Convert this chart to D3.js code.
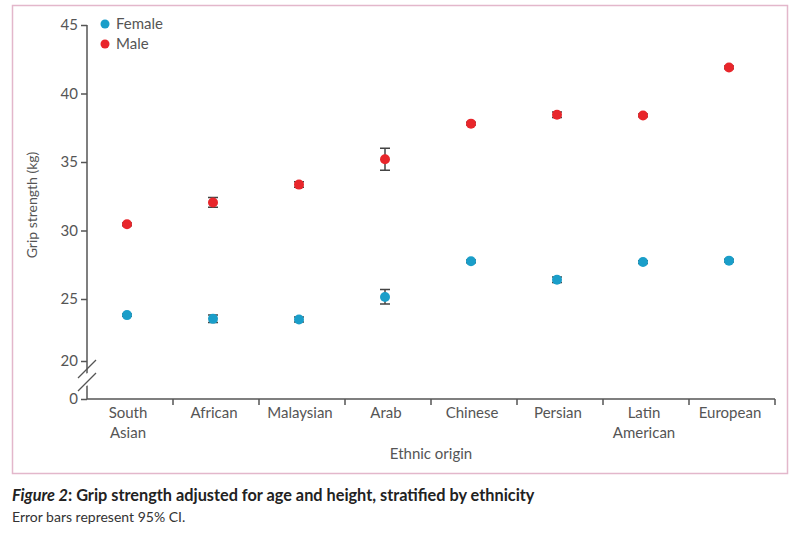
<!DOCTYPE html>
<html>
<head>
<meta charset="utf-8">
<script src="https://cdn.jsdelivr.net/npm/d3@7"></script>
<style>
  body { margin: 0; background: #fff; }
  svg text { font-family: Lato, "Open Sans", sans-serif; }
</style>
</head>
<body>
<div id="chart"></div>
<script>
const categories = [["South", "Asian"], ["African"], ["Malaysian"], ["Arab"], ["Chinese"], ["Persian"], ["Latin", "American"], ["European"]];
const femaleMean = [23.7, 23.4, 23.35, 25.15, 27.75, 26.4, 27.7, 27.8];
const femaleErr  = [0.1, 0.3, 0.2, 0.55, 0.1, 0.2, 0.1, 0.1];
const maleMean   = [30.45, 32.05, 33.35, 35.2, 37.8, 38.45, 38.4, 41.9];
const maleErr    = [0.1, 0.35, 0.2, 0.8, 0.1, 0.2, 0.1, 0.1];
const yTicks = [0, 20, 25, 30, 35, 40, 45];

const width = 796, height = 540;
const svg = d3.select('#chart').append('svg')
              .attr('width', width)
              .attr('height', height);

// pink frame
svg.append('rect')
   .attr('x', 12.5).attr('y', 5.5)
   .attr('width', 775).attr('height', 468)
   .attr('fill', 'none')
   .attr('stroke', '#e3b7cb')
   .attr('stroke-width', 1.5);

const axisColor = '#555';
const x0 = 87, x1 = 775;

// x scale over categories
const xScale = d3.scaleBand()
                 .domain(d3.range(categories.length))
                 .range([x0, x1]);

// y scale with a break between 0 and 20
const yScale = d3.scaleLinear()
                 .domain([0, 20, 25, 45])
                 .range([399, 361, 299, 25]);

// y axis
const yAxis = svg.append('g')
                 .attr('transform', `translate(${x0},0)`)
                 .call(d3.axisLeft(yScale).tickValues(yTicks).tickSize(6).tickPadding(3).tickSizeOuter(0));
yAxis.select('.domain').attr('stroke', axisColor).attr('stroke-width', 1.5)
     .attr('d', `M0,${yScale(45)}V${yScale(0)}`);
yAxis.selectAll('.tick line').attr('stroke', axisColor).attr('stroke-width', 1.5);
yAxis.selectAll('.tick text').attr('fill', '#555').style('font-size', '15px');

// axis break
svg.append('path')
   .attr('d', `M${x0 - 2},${yScale(0) - 25}L${x0 + 2},${yScale(0) - 14}`)
   .attr('stroke', '#fff').attr('stroke-width', 6);
[0, 13].forEach(off => {
  svg.append('line')
     .attr('x1', x0 - 9).attr('y1', yScale(0) - 8 - off)
     .attr('x2', x0 + 9).attr('y2', yScale(0) - 26 - off)
     .attr('stroke', axisColor).attr('stroke-width', 1.3);
});

// x axis
svg.append('line')
   .attr('x1', x0).attr('x2', x1)
   .attr('y1', yScale(0)).attr('y2', yScale(0))
   .attr('stroke', axisColor).attr('stroke-width', 1.5);
svg.selectAll('.xtick')
   .data(d3.range(1, categories.length + 1))
   .enter()
   .append('line')
   .attr('class', 'xtick')
   .attr('x1', d => x0 + d * xScale.step())
   .attr('x2', d => x0 + d * xScale.step())
   .attr('y1', yScale(0))
   .attr('y2', yScale(0) + 6)
   .attr('stroke', axisColor).attr('stroke-width', 1.5);

const xLabels = svg.selectAll('.xlabel')
                   .data(categories)
                   .enter()
                   .append('text')
                   .attr('class', 'xlabel')
                   .attr('text-anchor', 'middle')
                   .attr('fill', '#555')
                   .style('font-size', '15px');
xLabels.selectAll('tspan')
       .data((d, i) => d.map(t => ({ t, i })))
       .enter()
       .append('tspan')
       .attr('x', d => xScale(d.i) + xScale.bandwidth() / 2 - 2)
       .attr('y', (d, j) => 418 + j * 20)
       .text(d => d.t);

svg.append('text')
   .attr('x', 431).attr('y', 459)
   .attr('text-anchor', 'middle')
   .attr('fill', '#555')
   .style('font-size', '15px')
   .text('Ethnic origin');

svg.append('text')
   .attr('transform', 'translate(37,205) rotate(-90)')
   .attr('text-anchor', 'middle')
   .attr('fill', '#555')
   .style('font-size', '14px')
   .text('Grip strength (kg)');

// series
const series = [
  { name: 'Female', color: '#1a9ec9', mean: femaleMean, err: femaleErr },
  { name: 'Male', color: '#e8262b', mean: maleMean, err: maleErr }
];

series.forEach(s => {
  const g = svg.append('g');
  const cx = i => xScale(i) + xScale.bandwidth() / 2 - 3;
  const idx = d3.range(categories.length);
  g.selectAll('.err')
   .data(idx)
   .enter()
   .append('path')
   .attr('d', i => {
     const x = cx(i), yt = yScale(s.mean[i] + s.err[i]), yb = yScale(s.mean[i] - s.err[i]);
     return `M${x - 5},${yt}H${x + 5}M${x},${yt}V${yb}M${x - 5},${yb}H${x + 5}`;
   })
   .attr('stroke', '#444').attr('stroke-width', 1.5).attr('fill', 'none');
  g.selectAll('circle')
   .data(idx)
   .enter()
   .append('circle')
   .attr('cx', i => cx(i))
   .attr('cy', i => yScale(s.mean[i]))
   .attr('r', 5)
   .attr('fill', s.color);
});

// legend
const legend = svg.append('g');
series.forEach((s, i) => {
  legend.append('circle')
        .attr('cx', 105).attr('cy', 24 + i * 20)
        .attr('r', 4.5).attr('fill', s.color);
  legend.append('text')
        .attr('x', 116).attr('y', 29 + i * 20)
        .attr('fill', '#555')
        .style('font-size', '15px')
        .text(s.name);
});

// caption
const cap = svg.append('text')
               .attr('x', 12).attr('y', 501)
               .attr('fill', '#222')
               .style('font-size', '16.3px')
               .style('font-weight', 'bold');
cap.append('tspan').style('font-style', 'italic').text('Figure 2');
cap.append('tspan').text(': Grip strength adjusted for age and height, stratified by ethnicity');

svg.append('text')
   .attr('x', 12).attr('y', 522)
   .attr('fill', '#333')
   .style('font-size', '14px')
   .text('Error bars represent 95% CI.');
</script>
</body>
</html>
